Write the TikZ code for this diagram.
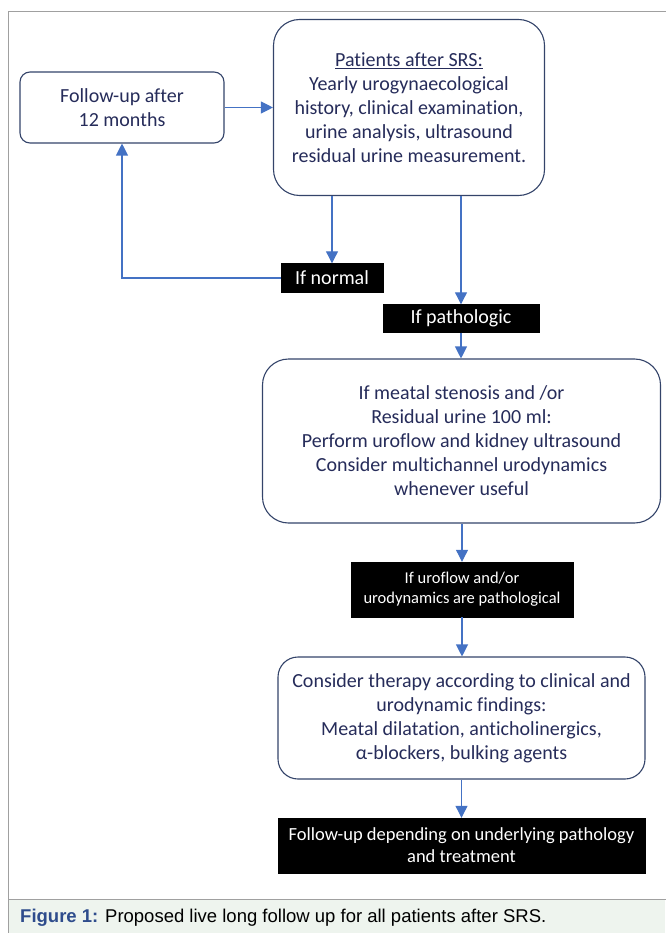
\documentclass[tikz,border=0pt]{standalone}
\usepackage{fontspec}
\setmainfont{Carlito}[Ligatures=NoCommon]
\newfontfamily\capfont{Liberation Sans}
\usetikzlibrary{arrows.meta,calc}
\definecolor{boxtext}{HTML}{262C5A}
\definecolor{boxline}{HTML}{34446A}
\definecolor{arrblue}{HTML}{4472C4}
\definecolor{capblue}{HTML}{2E4C8C}
\definecolor{capbg}{HTML}{EEF4EE}
\definecolor{framegray}{HTML}{A0A0A0}
\tikzset{
  wbox/.style={draw=boxline, line width=1.1pt, fill=white, text=boxtext, align=center, inner sep=0pt, font=\fontsize{20}{24}\selectfont},
  bbox/.style={draw=black, fill=black, text=white, align=center, inner sep=0pt, font=\fontsize{20}{22}\selectfont},
  arr/.style={draw=arrblue, line width=1.1pt, -{Triangle[width=12pt,length=12pt]}},
  ln/.style={draw=arrblue, line width=1.1pt}
}
\begin{document}
\begin{tikzpicture}[x=1pt,y=-1pt]
\useasboundingbox (0,0) rectangle (665,933);
% caption background and frame
\fill[capbg] (8,899) rectangle (665,933);
\draw[framegray, line width=1pt] (8,933) -- (8,12) -- (666,12);
\draw[framegray, line width=1pt] (8,899) -- (666,899);
% nodes
\node[wbox, rounded corners=10pt, minimum width=204pt, minimum height=71pt] (follow) at (122,107.5) {Follow-up after\\12 months};
\node[wbox, rounded corners=26pt, minimum width=271pt, minimum height=176pt] (patients) at (409,107.5) {\underline{Patients after SRS:}\\Yearly urogynaecological\\history, clinical examination,\\urine analysis, ultrasound\\residual urine measurement.};
\node[bbox, minimum width=102pt, minimum height=29pt] (normal) at (332,278) {If normal};
\node[bbox, minimum width=156pt, minimum height=28pt] (patho) at (461,318.5) {If pathologic};
\node[wbox, rounded corners=26pt, minimum width=398pt, minimum height=164pt] (meatal) at (461.5,441) {If meatal stenosis and /or\\Residual urine 100 ml:\\Perform uroflow and kidney ultrasound\\Consider multichannel urodynamics\\whenever useful};
\node[bbox, minimum width=222pt, minimum height=55pt, font=\fontsize{16.5}{20}\selectfont] (uroflow) at (462,589.5) {If uroflow and/or\\urodynamics are pathological};
\node[wbox, rounded corners=20pt, minimum width=367pt, minimum height=122pt] (therapy) at (461.5,718) {Consider therapy according to clinical and\\urodynamic findings:\\Meatal dilatation, anticholinergics,\\α-blockers, bulking agents};
\node[bbox, minimum width=367pt, minimum height=55pt, font=\fontsize{18.5}{22}\selectfont] (final) at (461.5,845.5) {Follow-up depending on underlying pathology\\and treatment};
% connectors
\draw[arr] (follow.east) -- (patients.west);
\draw[arr] (normal.north |- patients.south) -- (normal.north);
\draw[arr] (patho.north |- patients.south) -- (patho.north);
\draw[arr] (normal.west) -| (follow.south);
\draw[arr] (patho.south) -- (patho.south |- meatal.north);
\draw[arr] (uroflow.north |- meatal.south) -- (uroflow.north);
\draw[arr] (uroflow.south) -- (uroflow.south |- therapy.north);
\draw[arr] (final.north |- therapy.south) -- (final.north);
% caption
\node[anchor=west, inner sep=0pt, font=\capfont\fontsize{18.5}{22}\selectfont] (caption) at (20,918) {{\color{capblue}\bfseries Figure 1:} Proposed live long follow up for all patients after SRS.};
\end{tikzpicture}
\end{document}
